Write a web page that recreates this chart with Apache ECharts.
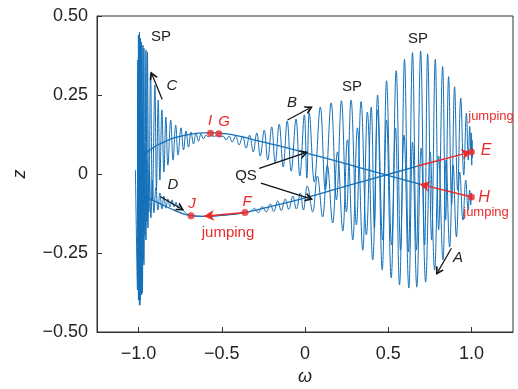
<!DOCTYPE html>
<html>
<head>
<meta charset="utf-8">
<script src="https://cdn.jsdelivr.net/npm/echarts@6/dist/echarts.min.js"></script>
<style>
  html, body { margin: 0; padding: 0; background: #fff; }
  #main { width: 518px; height: 389px; }
</style>
</head>
<body>
<div id="main"></div>
<script>
// oscillating response around the upper branch (omega, z) - extremes
var upW = [-1.007,-1.004,-1.001,-0.998,-0.995,-0.992,-0.989,-0.986,-0.983,-0.980,
  -0.974,-0.971,-0.968,-0.962,-0.956,-0.950,-0.947,-0.938,
  -0.928,-0.917,-0.902,-0.893,-0.882,-0.872,-0.860,-0.848,-0.836,-0.824,
  -0.807,-0.793,-0.777,-0.763,-0.745,-0.730,-0.715,-0.700,-0.685,-0.670,
  -0.655,-0.640,-0.625,-0.610,-0.595,-0.580,-0.564,-0.546,-0.528,-0.510,
  -0.492,-0.474,-0.456,-0.438,-0.417,-0.396,-0.375,-0.354,-0.333,-0.311,
  -0.290,-0.269,-0.245,-0.224,-0.200,-0.179,-0.155,-0.131,-0.107,-0.083,
  -0.054,-0.031,-0.004,0.011,0.026,0.056,0.092,0.122,0.157,0.189,
  0.219,0.249,0.277,0.309,0.337,0.369,0.398,0.417,0.436,0.466,
  0.490,0.520,0.548,0.574,0.598,0.622,0.646,0.670,0.695,0.719,
  0.737,0.761,0.783,0.803,0.827,0.845,0.863,0.881,0.899,0.917,
  0.936,0.954,0.970,0.981,0.990,0.996,0.999,1.002,1.004,1.005,
  1.006,1.008];
var upZ = [0.361,-0.367,0.440,-0.399,0.449,-0.415,0.430,-0.383,0.418,-0.351,
  0.408,-0.272,0.399,-0.193,0.392,-0.152,0.386,-0.120,
  0.320,-0.082,0.282,-0.051,0.234,-0.019,0.203,0.006,0.180,0.028,
  0.171,0.044,0.155,0.060,0.146,0.076,0.136,0.085,0.133,0.095,
  0.130,0.104,0.127,0.111,0.123,0.117,0.122,0.119,0.122,0.117,
  0.120,0.108,0.120,0.101,0.120,0.092,0.120,0.082,0.123,0.070,
  0.130,0.057,0.139,0.044,0.149,0.035,0.158,0.022,0.168,0.009,
  0.174,-0.006,0.187,-0.013,0.193,-0.025,0.212,-0.051,0.225,-0.082,
  0.232,-0.120,0.234,-0.161,0.229,-0.193,0.212,-0.171,0.250,-0.209,
  0.295,-0.225,0.327,-0.241,0.363,-0.247,0.384,-0.241,0.389,-0.225,
  0.380,-0.209,0.363,-0.177,0.340,-0.146,0.308,-0.098,0.276,-0.051,
  0.240,-0.003,0.193,0.044,0.150,0.076,0.130,0.028,0.108,0.051,
  0.082,0.070];

// oscillating response around the lower branch
var loW = [-1.019,-1.007,-1.004,-1.001,-0.998,-0.995,-0.992,-0.989,-0.986,-0.983,
  -0.980,-0.977,-0.971,-0.968,-0.962,-0.956,-0.950,-0.944,-0.935,-0.926,
  -0.917,-0.908,-0.896,-0.884,-0.872,-0.860,-0.848,-0.836,-0.824,-0.811,
  -0.799,-0.787,-0.775,-0.763,-0.751,-0.739,-0.685,-0.607,-0.486,-0.361,
  -0.323,-0.305,-0.281,-0.257,-0.233,-0.209,-0.188,-0.164,-0.143,-0.119,
  -0.098,-0.073,-0.052,-0.028,-0.010,0.014,0.046,0.074,0.106,0.134,
  0.166,0.195,0.227,0.255,0.287,0.315,0.347,0.375,0.407,0.436,
  0.464,0.490,0.518,0.544,0.568,0.595,0.624,0.646,0.672,0.698,
  0.725,0.752,0.779,0.803,0.829,0.848,0.869,0.890,0.910,0.930,
  0.949,0.966,0.980,0.990,0.996,1.000,1.002,1.004];
var loZ = [0.013,-0.367,0.297,-0.399,0.329,-0.415,0.266,-0.399,0.234,-0.383,
  0.171,-0.377,0.108,-0.288,0.076,-0.209,0.044,-0.171,0.013,-0.139,
  -0.019,-0.123,-0.044,-0.114,-0.060,-0.111,-0.070,-0.108,-0.079,-0.104,
  -0.082,-0.104,-0.089,-0.108,-0.095,-0.111,-0.132,-0.134,-0.130,-0.122,
  -0.117,-0.109,-0.122,-0.103,-0.120,-0.095,-0.119,-0.085,-0.116,-0.079,
  -0.112,-0.070,-0.111,-0.060,-0.114,-0.038,-0.120,-0.006,-0.136,0.028,
  -0.155,0.070,-0.180,0.108,-0.209,0.146,-0.241,0.196,-0.272,0.203,
  -0.304,0.171,-0.329,0.146,-0.351,0.123,-0.361,0.101,-0.358,0.082,
  -0.342,0.070,-0.304,0.057,-0.272,0.044,-0.231,0.028,-0.199,0.006,
  -0.146,-0.019,-0.114,-0.051,-0.098,-0.060,-0.082,-0.073];

// quasi-static (QS) branches
var qsUpW = [-0.968,-0.908,-0.848,-0.787,-0.697,-0.607,-0.546,-0.486,-0.396,-0.275,-0.155,-0.004,0.207,0.448,0.689];
var qsUpZ = [0.060,0.085,0.101,0.114,0.125,0.130,0.130,0.128,0.120,0.104,0.089,0.068,0.038,0.003,-0.032];
var qsLoW = [-0.968,-0.878,-0.787,-0.685,-0.607,-0.486,-0.361,-0.215,-0.004,0.267,0.508,0.676];
var qsLoZ = [-0.070,-0.092,-0.114,-0.132,-0.134,-0.130,-0.122,-0.104,-0.076,-0.035,0.000,0.025];

// labelled points
var ptNames = ['I', 'G', 'J', 'F', 'E', 'H'];
var ptW = [-0.568, -0.518, -0.685, -0.361, 1.0, 1.0];
var ptZ = [0.129, 0.127, -0.132, -0.122, 0.070, -0.073];

// axis ticks
var xTicks = [-1, -0.5, 0, 0.5, 1];
var xTickLabels = ['\u22121.0', '\u22120.5', '0', '0.5', '1.0'];
var yTicks = [-0.5, -0.25, 0, 0.25, 0.5];
var yTickLabels = ['\u22120.50', '\u22120.25', '0', '0.25', '0.50'];

function zip(a, b) {
  var out = [];
  for (var i = 0; i < Math.min(a.length, b.length); i++) out.push([a[i], b[i]]);
  return out;
}

var blue = '#1470b8';
var red = '#ec2a2a';
var font = '"Liberation Sans", Arial, Helvetica, sans-serif';

function arrow(x1, y1, x2, y2) {
  return [{ coord: [x1, y1] }, { coord: [x2, y2] }];
}

function txt(s, x, y, size, color, italic) {
  return {
    type: 'text', x: x, y: y, z: 100,
    style: {
      text: s, fill: color,
      font: (italic ? 'italic ' : '') + size + 'px ' + font,
      align: 'center', verticalAlign: 'middle'
    }
  };
}

var chart = echarts.init(document.getElementById('main'), null, { renderer: 'canvas' });

var option = {
  animation: false,
  backgroundColor: '#fff',
  grid: {
    left: 97, right: 5, top: 16, bottom: 57, outerBoundsMode: 'none', containLabel: false,
    show: true, borderColor: '#333', borderWidth: 1, backgroundColor: 'transparent'
  },
  xAxis: {
    type: 'value', min: -1.25, max: 1.25,
    name: '\u03c9', nameLocation: 'middle', nameGap: 36,
    nameTextStyle: { fontFamily: font, fontSize: 18, fontStyle: 'italic', color: '#222' },
    axisLine: { show: true, onZero: false, lineStyle: { color: '#333', width: 1 } },
    axisTick: { show: true, inside: true, length: 5, customValues: xTicks, lineStyle: { color: '#333' } },
    axisLabel: {
      customValues: xTicks, margin: 13, fontFamily: font, fontSize: 18, color: '#222',
      formatter: function (v) { return xTickLabels[xTicks.indexOf(v)]; }
    },
    splitLine: { show: false }
  },
  yAxis: {
    type: 'value', min: -0.5, max: 0.5, interval: 0.25,
    name: 'z', nameLocation: 'middle', nameGap: 68, nameRotate: 90,
    nameTextStyle: { fontFamily: font, fontSize: 18, fontStyle: 'italic', color: '#222' },
    axisLine: { show: true, onZero: false, lineStyle: { color: '#333', width: 1 } },
    axisTick: { show: true, inside: true, length: 5, customValues: yTicks, lineStyle: { color: '#333' } },
    axisLabel: {
      customValues: yTicks, margin: 9, fontFamily: font, fontSize: 18, color: '#222',
      formatter: function (v) { return yTickLabels[yTicks.indexOf(v)]; }
    },
    splitLine: { show: false }
  },
  series: [
    {
      type: 'line', data: zip(upW, upZ), showSymbol: false, smooth: 0.4,
      lineStyle: { color: blue, width: 1 }, z: 2
    },
    {
      type: 'line', data: zip(loW, loZ), showSymbol: false, smooth: 0.4,
      lineStyle: { color: blue, width: 1 }, z: 2
    },
    {
      type: 'line', data: zip(qsUpW, qsUpZ), showSymbol: false, smooth: true,
      lineStyle: { color: blue, width: 1.3 }, z: 3
    },
    {
      type: 'line', data: zip(qsLoW, qsLoZ), showSymbol: false, smooth: true,
      lineStyle: { color: blue, width: 1.3 }, z: 3
    },
    {
      // black annotation arrows
      type: 'line', data: [], z: 5,
      markLine: {
        silent: true, animation: false,
        symbol: ['none', 'path://M0,12 L6,0 L12,12 L9.5,12 L6,5 L2.5,12 Z'],
        symbolSize: [9, 8],
        label: { show: false },
        lineStyle: { color: '#111', width: 1.2, type: 'solid' },
        data: [
          arrow(-0.858, 0.236, -0.918, 0.313),
          arrow(-0.105, 0.171, 0.026, 0.208),
          arrow(-0.275, 0.018, -0.004, 0.066),
          arrow(-0.265, -0.029, 0.026, -0.077),
          arrow(-0.867, -0.072, -0.747, -0.109),
          arrow(0.880, -0.235, 0.799, -0.309)
        ]
      }
    },
    {
      // red jumps
      type: 'line', data: [], z: 6,
      markLine: {
        silent: true, animation: false,
        symbol: ['none', 'arrow'], symbolSize: [8, 10],
        label: { show: false },
        lineStyle: { color: red, width: 1.5, type: 'solid' },
        data: [
          arrow(ptW[3], ptZ[3], -0.607, -0.134),
          arrow(0.676, 0.025, ptW[4], ptZ[4]),
          arrow(ptW[5], ptZ[5], 0.689, -0.032)
        ]
      }
    },
    {
      type: 'scatter', data: zip(ptW, ptZ), symbolSize: 7, z: 7,
      itemStyle: { color: red }
    }
  ],
  graphic: [
    txt('SP', 161, 37, 15, '#222', false),
    txt('SP', 352, 87, 15, '#222', false),
    txt('SP', 418, 39, 15, '#222', false),
    txt('C', 172, 86, 15, '#222', true),
    txt('B', 292, 103, 15, '#222', true),
    txt('QS', 246, 176, 15, '#222', false),
    txt('D', 173, 185, 15, '#222', true),
    txt('A', 458, 258, 15, '#222', true),
    txt('I', 210, 121, 15, red, true),
    txt('G', 224, 122, 15, red, true),
    txt('J', 192, 204, 15, red, true),
    txt('F', 247, 202, 15, red, true),
    txt('E', 486, 151, 16, red, true),
    txt('H', 484, 198, 16, red, true),
    txt('jumping', 228, 233, 15, red, false),
    txt('jumping', 491, 116, 13, red, false),
    txt('jumping', 486, 212, 13, red, false)
  ]
};

chart.setOption(option);
</script>
</body>
</html>
